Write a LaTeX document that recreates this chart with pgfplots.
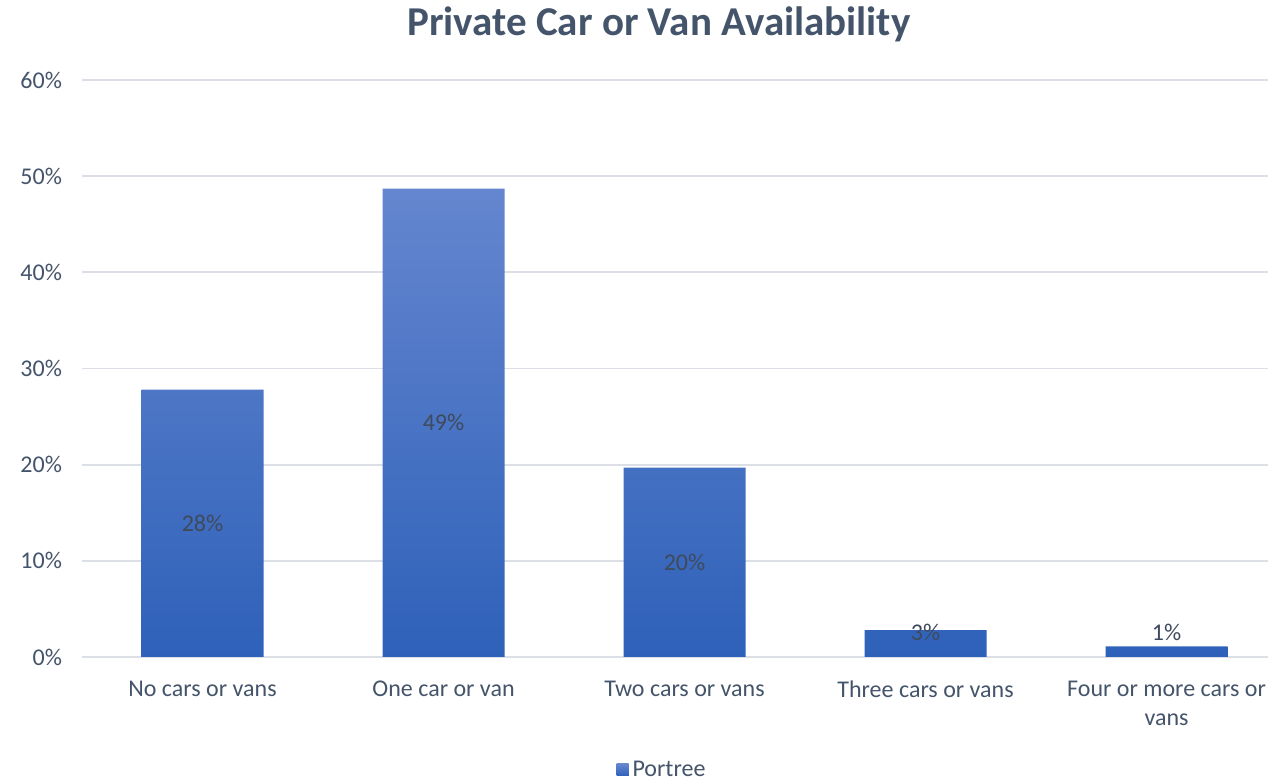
\documentclass[border=0pt]{standalone}
\usepackage{fontspec}
\setmainfont{Carlito}
\usepackage{pgfplots}
\pgfplotsset{compat=1.18}
\definecolor{txt}{HTML}{44546A}
\definecolor{lbl}{HTML}{3F4A5C}
\definecolor{gridc}{HTML}{DCE0E6}
\definecolor{bartop}{HTML}{6586CF}
\definecolor{barbot}{HTML}{2E61B9}
\begin{document}
\begin{tikzpicture}
% fixed frame of the picture (axis box sits at 0,0 .. 593pt,288.5pt)
\path[use as bounding box] (-41pt,-61.5pt) rectangle (594pt,328.5pt);
\begin{axis}[
    scale only axis,
    width=593pt, height=288.5pt,
    xmin=-0.5, xmax=4.421,
    ymin=0, ymax=60,
    ytick={0,10,...,60},
    xtick={0,1,2,3,4},
    xticklabels={No cars or vans, One car or van, Two cars or vans, Three cars or vans, {Four or more cars or\\vans}},
    xticklabel style={align=center, font=\fontsize{12}{14.5}\selectfont, text=txt, yshift=-8.5pt},
    yticklabel={\pgfmathprintnumber{\tick}\%},
    yticklabel style={font=\fontsize{12}{14.5}\selectfont, text=txt, xshift=-6.5pt},
    /pgf/number format/assume math mode=true,
    major tick length=0pt,
    axis line style={draw=none},
    ymajorgrids,
    grid style={gridc, line width=0.9pt},
    clip=false,
    legend style={at={(290.5pt,-56.5pt)}, anchor=center, draw=none,
        font=\fontsize{12}{14.5}\selectfont, text=txt},
    legend image code/.code={\fill[barbot] (0pt,-3pt) rectangle (6pt,3pt);},
]
\addplot[ybar, bar width=61pt, draw=none, top color=bartop, bottom color=barbot]
    coordinates {(0,27.8) (1,48.7) (2,19.7) (3,2.8) (4,1.1)};
\addlegendentry{Portree}
\addplot[only marks, mark=none, point meta=explicit symbolic,
    nodes near coords, nodes near coords align={center},
    every node near coord/.append style={font=\fontsize{12}{14.5}\selectfont, text=lbl, anchor=center},
    forget plot]
    coordinates {(0,13.9)[28\%] (1,24.35)[49\%] (2,9.85)[20\%] (3,2.6)[3\%] (4,2.6)[1\%]};
\end{axis}
\node[font=\fontsize{20.5}{24}\selectfont\bfseries, text=txt] at (288.5pt,316.5pt) {Private Car or Van Availability};
\end{tikzpicture}
\end{document}
